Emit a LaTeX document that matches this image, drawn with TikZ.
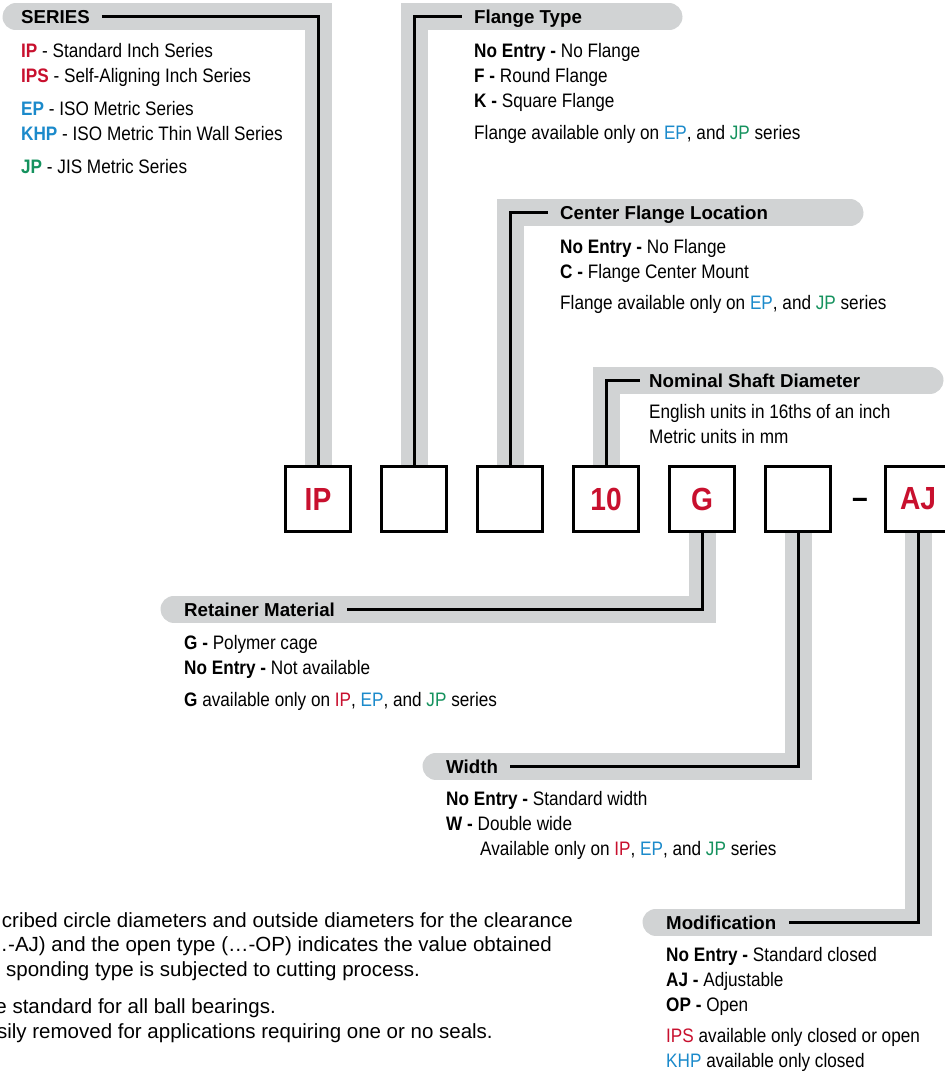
\documentclass[tikz,border=0pt]{standalone}
\usepackage{fontspec}
\setmainfont{Liberation Sans}[FakeStretch=0.88]
\newfontfamily\headfont{Liberation Sans}
\usetikzlibrary{positioning,backgrounds}
\definecolor{sred}{HTML}{C8102E}
\definecolor{sblue}{HTML}{1B8ACB}
\definecolor{sgreen}{HTML}{15925E}
\definecolor{bandgray}{HTML}{D1D3D4}
\newcommand{\ser}[2]{\textcolor{#1}{#2}}
\newcommand{\ip}{\ser{sred}{IP}}
\newcommand{\ips}{\ser{sred}{IPS}}
\newcommand{\ep}{\ser{sblue}{EP}}
\newcommand{\khp}{\ser{sblue}{KHP}}
\newcommand{\jp}{\ser{sgreen}{JP}}

\begin{document}
\begin{tikzpicture}[x=1pt,y=-1pt,node distance=96pt]
        \tikzstyle{digit} = [draw, line width=3pt, fill=white, minimum size=65pt, inner sep=0pt, on grid, text=sred, font=\fontsize{32}{36}\selectfont\bfseries]
        \tikzstyle{head} = [anchor=west, inner sep=0pt, text height=14pt, text depth=0pt, font=\headfont\bfseries\fontsize{18.7}{22}\selectfont]
        \tikzstyle{body} = [align=left, inner sep=0pt, font=\fontsize{19.5}{25}\selectfont]
        \tikzstyle{note} = [anchor=base east, inner sep=0pt, font=\headfont\fontsize{20.5}{25}\selectfont]
        \tikzstyle{band} = [draw=bandgray, line width=27pt, line cap=round]
        \tikzstyle{lead} = [draw, line width=3pt]

        \useasboundingbox (0,0) rectangle (944,1075);

        % Part number boxes
        \node[digit] (b1) at (318,499) {IP};
        \node[digit, right=of b1] (b2) {};
        \node[digit, right=of b2] (b3) {};
        \node[digit, right=of b3] (b4) {10};
        \node[digit, right=of b4] (b5) {G};
        \node[digit, right=of b5] (b6) {};
        \node[on grid, inner sep=0pt, text height=18.6pt, text depth=0pt, font=\fontsize{32}{36}\selectfont\bfseries, right=62pt of b6] (dash) {–};
        \node[digit, right=120pt of b6] (b7) {AJ};

        % Headings
        \node[head] (hseries) at (21,17) {SERIES};
        \node[head] (hflange) at (474,17) {Flange Type};
        \node[head] (hcenter) at (560,213) {Center Flange Location};
        \node[head] (hshaft) at (649,380) {Nominal Shaft Diameter};
        \node[head] (hretain) at (184,609) {Retainer Material};
        \node[head] (hwidth) at (446,766) {Width};
        \node[head] (hmod) at (666,922) {Modification};

        % Options
        \node[body, below right=19pt and 0pt of hseries.south west] (tseries) {%
            \textbf{\ip} - Standard Inch Series\\
            \textbf{\ips} - Self-Aligning Inch Series\\[8pt]
            \textbf{\ep} - ISO Metric Series\\
            \textbf{\khp} - ISO Metric Thin Wall Series\\[8pt]
            \textbf{\jp} - JIS Metric Series};
        \node[body, below right=19pt and 0pt of hflange.south west] (tflange) {%
            \textbf{No Entry -} No Flange\\
            \textbf{F -} Round Flange\\
            \textbf{K -} Square Flange\\[7pt]
            Flange available only on \ep, and \jp{} series};
        \node[body, below right=19pt and 0pt of hcenter.south west] (tcenter) {%
            \textbf{No Entry -} No Flange\\
            \textbf{C -} Flange Center Mount\\[6pt]
            Flange available only on \ep, and \jp{} series};
        \node[body, below right=17pt and 0pt of hshaft.south west] (tshaft) {%
            English units in 16ths of an inch\\
            Metric units in mm};
        \node[body, below right=19pt and 0pt of hretain.south west] (tretain) {%
            \textbf{G -} Polymer cage\\
            \textbf{No Entry -} Not available\\[7pt]
            \textbf{G} available only on \ip, \ep, and \jp{} series};
        \node[body, below right=18pt and 0pt of hwidth.south west] (twidth) {%
            \textbf{No Entry -} Standard width\\
            \textbf{W -} Double wide\\
            \hspace*{34pt}Available only on \ip, \ep, and \jp{} series};
        \node[body, below right=18pt and 0pt of hmod.south west] (tmod) {%
            \textbf{No Entry -} Standard closed\\
            \textbf{AJ -} Adjustable\\
            \textbf{OP -} Open\\[6pt]
            \ips{} available only closed or open\\
            \khp{} available only closed};

        % Notes
        \node[note] (n1) at (573,927) {cribed circle diameters and outside diameters for the clearance};
        \node[note] (n2) at (552,951) {(…-AJ) and the open type (…-OP) indicates the value obtained};
        \node[note] (n3) at (420,976) {sponding type is subjected to cutting process.};
        \node[note] (n4) at (276,1013) {e standard for all ball bearings.};
        \node[note] (n5) at (493,1038) {sily removed for applications requiring one or no seals.};

        % Bands
        \begin{scope}[on background layer]
            \fill[white] (0,0) rectangle (944,1075);
            \draw[band] ([xshift=-5pt]hseries.west) -| (b1.north);
            \draw[band] (b2.north) |- ([xshift=195pt]hflange.west);
            \draw[band] (b3.north) |- ([xshift=290pt]hcenter.west);
            \draw[band] (b4.north) |- ([xshift=281pt]hshaft.west);
            \draw[band] (b5.south) |- ([xshift=-10pt]hretain.west);
            \draw[band] (b6.south) |- ([xshift=-10pt]hwidth.west);
            \draw[band] (b7.south) |- ([xshift=-10pt]hmod.west);
        \end{scope}

        % Edges
        \draw[lead] ([xshift=12pt]hseries.east) -| (b1.north);
        \draw[lead] (b2.north) |- ([xshift=-12pt]hflange.west);
        \draw[lead] (b3.north) |- ([xshift=-12pt]hcenter.west);
        \draw[lead] (b4.north) |- ([xshift=-9pt]hshaft.west);
        \draw[lead] (b5.south) |- ([xshift=12pt]hretain.east);
        \draw[lead] (b6.south) |- ([xshift=12pt]hwidth.east);
        \draw[lead] (b7.south) |- ([xshift=12pt]hmod.east);
\end{tikzpicture}
\end{document}
